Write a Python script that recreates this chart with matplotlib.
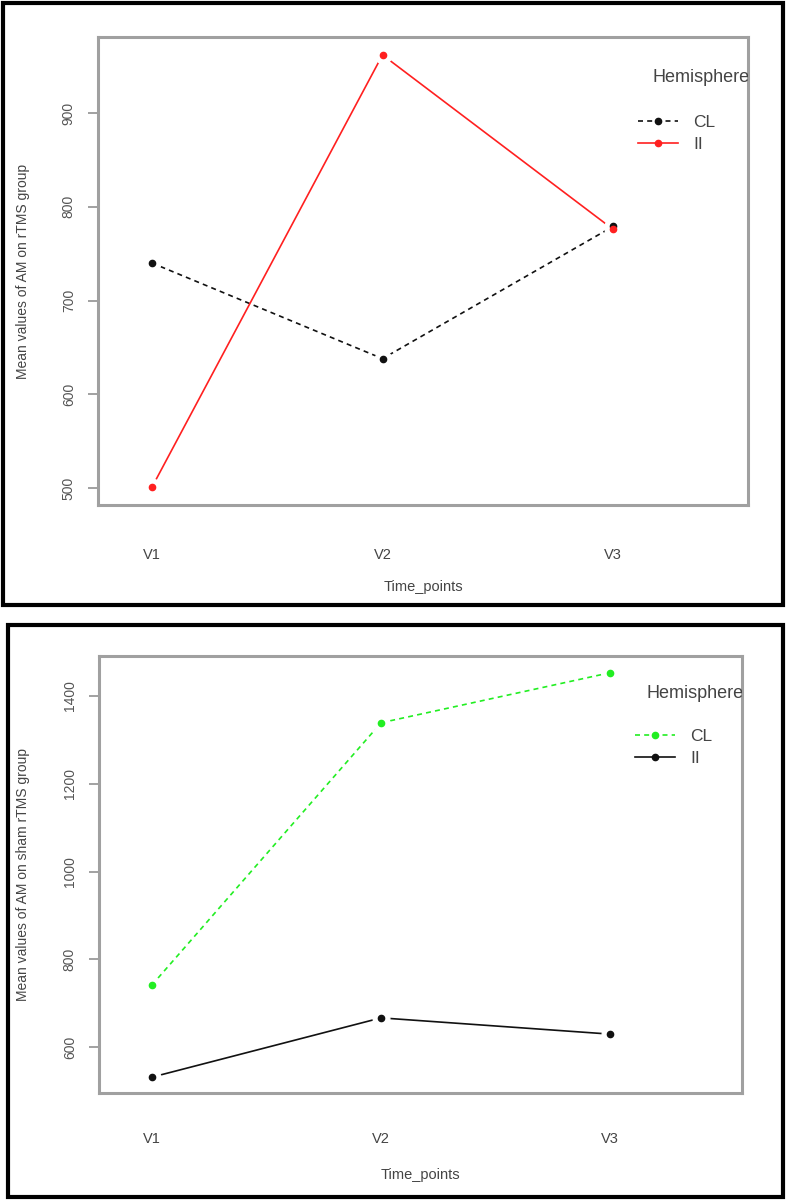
import matplotlib
matplotlib.use("Agg")
import matplotlib.pyplot as plt
from matplotlib.patches import Rectangle
from matplotlib.lines import Line2D

# ---------------- data ----------------
time_points = ["V1", "V2", "V3"]
hemispheres = ["CL", "II"]

rtms_cl = [740, 638, 779]
rtms_ii = [501, 962, 776]
rtms_yticks = [500, 600, 700, 800, 900]

sham_cl = [742, 1339, 1453]
sham_ii = [532, 667, 630]
sham_yticks = [600, 800, 1000, 1200, 1400]

W, H = 787, 1203
plt.rcParams['font.family'] = ['Liberation Sans', 'DejaVu Sans']
fig = plt.figure(figsize=(W / 100, H / 100), dpi=100)


def ax_rect(l, t, r, b):
    return [l / W, 1 - b / H, (r - l) / W, (b - t) / H]


def border(l, t, r, b):
    fig.patches.append(Rectangle((l / W, 1 - b / H), (r - l) / W, (b - t) / H,
                                 transform=fig.transFigure, fill=False,
                                 edgecolor='black', linewidth=3.0, zorder=10))


def panel(rect, xlim, ylim, yticks, series, styles, ylabel, leg_px, title_px,
          ypad_ax, xlab_y, xtick_pad):
    ax = fig.add_axes(ax_rect(*rect))
    x = list(range(1, len(time_points) + 1))
    handles = []
    for vals, (col, ls) in zip(series, styles):
        ax.plot(x, vals, color=col, linestyle=ls, linewidth=1.2, zorder=2,
                dashes=(3, 2.5) if ls == '--' else (None, None))
        ax.plot(x, vals, linestyle='none', marker='o', markersize=12,
                markerfacecolor='white', markeredgecolor='white', zorder=3)
        ax.plot(x, vals, linestyle='none', marker='o', markersize=4.5,
                color=col, zorder=4)
        h = Line2D([0], [0], color=col, linewidth=1.2, marker='o', markersize=4.5)
        if ls == '--':
            h.set_dashes((3, 2.5))
        handles.append(h)
    ax.set_xlim(*xlim)
    ax.set_ylim(*ylim)
    ax.set_xticks(x)
    ax.set_xticklabels(time_points)
    ax.set_yticks(yticks)
    ax.set_yticklabels([str(v) for v in yticks])
    for s in ax.spines.values():
        s.set_color('#a0a0a0')
        s.set_linewidth(2.2)
    ax.tick_params(axis='x', length=0, pad=xtick_pad, labelsize=10.5,
                   labelcolor='#444444')
    ax.tick_params(axis='y', length=7, width=1.3, color='#9a9a9a', pad=9,
                   labelsize=10, labelcolor='#555555', labelrotation=90)
    for lab in ax.get_yticklabels():
        lab.set_va('center')
    ax.set_ylabel(ylabel, fontsize=10, color='#444444')
    ax.yaxis.set_label_coords(ypad_ax, 0.5)
    ax.set_xlabel("Time_points", fontsize=10.5, color='#444444')
    ax.xaxis.set_label_coords(0.5, xlab_y)
    # legend
    lx, ly = leg_px
    leg = ax.legend(handles, hemispheres, loc='upper left', frameon=False,
                    bbox_to_anchor=(lx / W, 1 - ly / H),
                    bbox_transform=fig.transFigure, fontsize=12.5,
                    handlelength=2.3, handletextpad=0.9, labelspacing=0.38,
                    borderpad=0, borderaxespad=0)
    for t in leg.get_texts():
        t.set_color('#444444')
    tx, ty = title_px
    ax.text(tx / W, 1 - ty / H, "Hemisphere", transform=fig.transFigure,
            fontsize=13, color='#444444', ha='left', va='center',
            clip_on=True, clip_box=ax.bbox)
    return ax


# top panel: rTMS
panel((98, 37, 748, 505), (0.7657, 3.5857), (481.9, 981.1), rtms_yticks,
      [rtms_cl, rtms_ii], [('#111111', '--'), ('#ff2020', '-')],
      "Mean values of AM on rTMS group", (638, 115), (653, 77),
      -0.105, -0.160, 31)
border(3, 3, 783, 605)

# bottom panel: sham rTMS
panel((99, 656, 742, 1093), (0.7686, 3.576), (495.9, 1491.1), sham_yticks,
      [sham_cl, sham_ii], [('#22ee22', '--'), ('#111111', '-')],
      "Mean values of AM on sham rTMS group", (635, 729), (646, 693),
      -0.107, -0.172, 28)
border(8, 625, 783, 1197)

fig.savefig("out.png", dpi=100)
